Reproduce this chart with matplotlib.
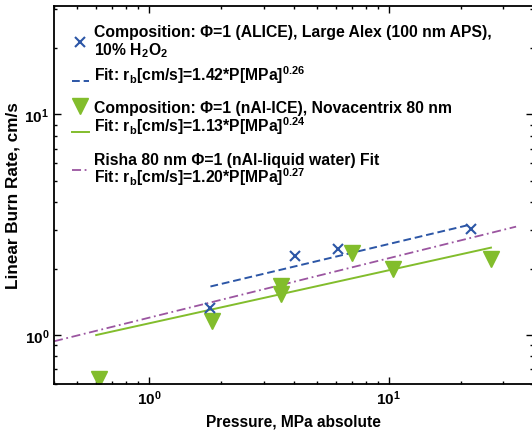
import matplotlib
matplotlib.use("Agg")
import matplotlib.pyplot as plt
from matplotlib.lines import Line2D
from matplotlib.legend_handler import HandlerLine2D

plt.rcParams["font.family"] = ["Liberation Sans", "DejaVu Sans"]
plt.rcParams["font.weight"] = "bold"
plt.rcParams["mathtext.fontset"] = "custom"
plt.rcParams["mathtext.rm"] = "Liberation Sans:bold"
plt.rcParams["mathtext.it"] = "Liberation Sans:bold"
plt.rcParams["mathtext.bf"] = "Liberation Sans:bold"
plt.rcParams["mathtext.default"] = "rm"

# ALICE, Large Alex (100 nm APS), 10% H2O2
alice_p = [1.80, 4.07, 6.15, 22.0]
alice_rb = [1.32, 2.29, 2.45, 3.04]
alice_fit_p = [1.8, 22.0]
alice_fit_rb = [1.66, 3.17]

# nAl-ICE, Novacentrix 80 nm
ice_p = [0.615, 1.82, 3.54, 3.54, 7.03, 10.45, 26.7]
ice_rb = [0.63, 1.16, 1.67, 1.53, 2.35, 2.00, 2.21]
ice_fit_p = [0.6, 26.7]
ice_fit_rb = [1.0, 2.49]

# Risha 80 nm nAl-liquid water fit
risha_fit_p = [0.4, 34.0]
risha_fit_rb = [0.937, 3.10]

lab_alice = "Composition: \u03a6=1 (ALICE), Large Alex (100 nm APS),\n10% H$_2$O$_2$"
lab_alice_fit = "Fit: r$_b$[cm/s]=1.42*P[MPa]$^{0.26}$"
lab_ice = "Composition: \u03a6=1 (nAl-ICE), Novacentrix 80 nm"
lab_ice_fit = "Fit: r$_b$[cm/s]=1.13*P[MPa]$^{0.24}$"
lab_risha = "Risha 80 nm \u03a6=1 (nAl-liquid water) Fit\nFit: r$_b$[cm/s]=1.20*P[MPa]$^{0.27}$"

blue = "#2c56a6"
green = "#82bd2c"
purple = "#9b55a0"


class LowLine(HandlerLine2D):
    # fit-line handles sit near the baseline, below the text centre
    def create_artists(self, legend, orig_handle, xdescent, ydescent,
                       width, height, fontsize, trans):
        return super().create_artists(legend, orig_handle, xdescent, ydescent + 9,
                                      width, height, fontsize, trans)


fig = plt.figure(figsize=(5.32, 4.31), dpi=100)
ax = fig.add_axes([54 / 532, 46 / 431, 479 / 532, 378 / 431])

ax.plot(risha_fit_p, risha_fit_rb, color=purple, lw=1.3, ls=(0, (5, 2, 1, 2)))
ax.plot(ice_fit_p, ice_fit_rb, color=green, lw=1.4, ls="-")
ax.plot(alice_fit_p, alice_fit_rb, color=blue, lw=1.4, ls=(0, (4, 2)))
ax.plot(ice_p, ice_rb, ls="none", marker="v", ms=11.5, color=green, mec=green)
ax.plot(alice_p, alice_rb, ls="none", marker="x", ms=7, mew=1.5, color=blue)

ax.set_xscale("log")
ax.set_yscale("log")
ax.set_xlim(0.4, 40)
ax.set_ylim(0.6, 31)

ax.set_xlabel("Pressure, MPa absolute", fontsize=11.2, fontweight="bold", labelpad=4)
ax.set_ylabel("Linear Burn Rate, cm/s", fontsize=12.3, fontweight="bold", labelpad=3)
ax.tick_params(which="both", direction="in", top=True, right=True, labelsize=11)
ax.tick_params(which="major", length=5, width=1)
ax.tick_params(which="minor", length=2.5, width=1)
for lbl in ax.get_xticklabels() + ax.get_yticklabels():
    lbl.set_fontweight("bold")
for sp in ax.spines.values():
    sp.set_linewidth(1.3)

leg_kw = dict(loc="upper left", frameon=False, fontsize=11.3, borderpad=0,
              borderaxespad=0, handlelength=1.08, handletextpad=0.32)

blue_fit = Line2D([], [], color=blue, lw=1.4, ls=(0, (4, 2)))
h1 = [Line2D([], [], ls="none", marker="x", ms=7, mew=1.5, color=blue), blue_fit]
leg1 = ax.legend(h1, [lab_alice, lab_alice_fit], bbox_to_anchor=(0.037, 0.952),
                 labelspacing=0.25, handler_map={blue_fit: LowLine()}, **leg_kw)
for t in leg1.get_texts():
    t.set_linespacing(1.1)
ax.add_artist(leg1)

green_fit = Line2D([], [], color=green, lw=1.4)
h2 = [Line2D([], [], ls="none", marker="v", ms=11.5, color=green), green_fit]
leg2 = ax.legend(h2, [lab_ice, lab_ice_fit], bbox_to_anchor=(0.037, 0.752),
                 labelspacing=0.0, handler_map={green_fit: LowLine()}, **leg_kw)
ax.add_artist(leg2)

h3 = [Line2D([], [], color=purple, lw=1.3, ls=(0, (5, 2, 1, 2)))]
leg3 = ax.legend(h3, [lab_risha], bbox_to_anchor=(0.037, 0.614), labelspacing=0.0, **leg_kw)
for t in leg3.get_texts():
    t.set_linespacing(0.88)

fig.savefig("out.png", dpi=100)
